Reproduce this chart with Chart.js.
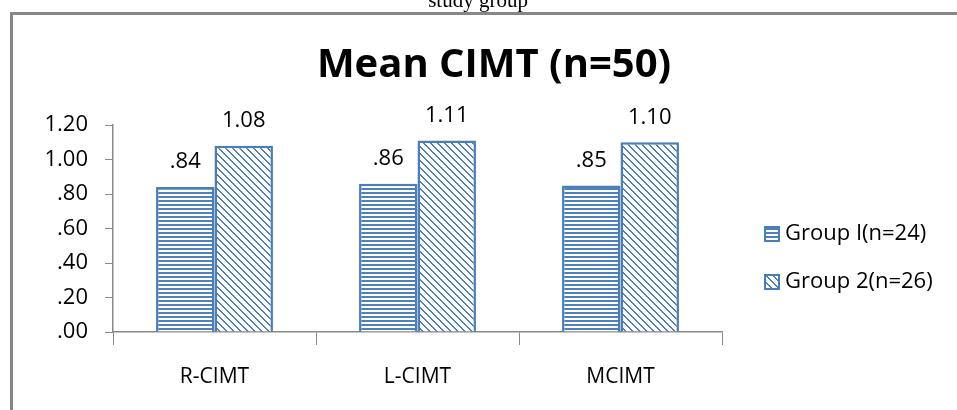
<!DOCTYPE html>
<html>
<head>
<meta charset="utf-8">
<script src="https://cdn.jsdelivr.net/npm/chart.js@4/dist/chart.umd.min.js"></script>
<style>
  html, body { margin: 0; padding: 0; background: #fff; overflow: hidden; }
  #wrap { position: relative; width: 957px; height: 410px; }
</style>
</head>
<body>
<div id="wrap"><canvas id="c" width="957" height="410"></canvas></div>
<script>
// ---- data ----
const categories = ['R-CIMT', 'L-CIMT', 'MCIMT'];
const groupOne = [0.84, 0.86, 0.85];
const groupTwo = [1.08, 1.11, 1.10];
const seriesNames = ['Group I(n=24)', 'Group 2(n=26)'];
const chartTitle = 'Mean CIMT (n=50)';
const captionText = 'study group';
const yMin = 0, yMax = 1.2, yStep = 0.2;

// ---- styling ----
const FONT = '"Open Sans", Lato, sans-serif';
const BLUE = '#4F81BD';
const EDGE = '#4A7EBB';
const AXIS = '#898989';

// number format like ".84" / "1.08"
const fmt = v => v.toFixed(2).replace(/^0(?=\.)/, '');

// fill patterns: horizontal stripes and downward diagonal
function makePattern(kind) {
  const size = kind === 'h' ? 4 : 7;
  const t = document.createElement('canvas');
  t.width = size; t.height = size;
  const g = t.getContext('2d');
  g.fillStyle = '#fff';
  g.fillRect(0, 0, size, size);
  g.fillStyle = BLUE;
  if (kind === 'h') {
    g.fillRect(0, 0, size, 2);
  } else {
    for (let y = 0; y < size; y++) {
      for (let x = 0; x < size; x++) {
        const d = ((x - y) % size + size) % size;
        if (d < 2) g.fillRect(x, y, 1, 1);
      }
    }
  }
  return document.getElementById('c').getContext('2d').createPattern(t, 'repeat');
}
const patterns = [makePattern('h'), makePattern('d')];

// frame, caption, title, value labels and legend
const decorations = {
  id: 'decorations',
  beforeDraw(chart) {
    const ctx = chart.ctx;
    ctx.save();
    ctx.fillStyle = '#fff';
    ctx.fillRect(0, 0, chart.width, chart.height);
    ctx.strokeStyle = '#878787';
    ctx.lineWidth = 3;
    ctx.strokeRect(11.5, 13.5, chart.width + 20, chart.height + 20);
    ctx.fillStyle = '#000';
    ctx.font = '21px "Liberation Serif", "Times New Roman", serif';
    ctx.textAlign = 'center';
    ctx.textBaseline = 'alphabetic';
    ctx.fillText(captionText, 478, 7);
    ctx.restore();
  },
  afterDatasetsDraw(chart) {
    const ctx = chart.ctx;
    ctx.save();
    ctx.fillStyle = '#000';
    ctx.textAlign = 'center';
    ctx.textBaseline = 'middle';
    ctx.font = '22px ' + FONT;
    chart.data.datasets.forEach((ds, i) => {
      chart.getDatasetMeta(i).data.forEach((bar, j) => {
        ctx.fillText(fmt(ds.data[j]), bar.x, bar.y - 25);
      });
    });

    // title
    ctx.font = 'bold 40px ' + FONT;
    ctx.fillText(chartTitle, 494, 66);

    // legend
    ctx.textAlign = 'left';
    ctx.font = '22px ' + FONT;
    const rows = [234, 282];
    chart.data.datasets.forEach((ds, i) => {
      const y = rows[i];
      ctx.fillStyle = patterns[i];
      ctx.fillRect(764, y - 8, 16, 16);
      ctx.strokeStyle = EDGE;
      ctx.lineWidth = 2;
      ctx.strokeRect(765, y - 7, 14, 14);
      ctx.fillStyle = '#000';
      ctx.fillText(ds.label, 785, y);
    });
    ctx.restore();
  }
};

new Chart(document.getElementById('c'), {
  type: 'bar',
  data: {
    labels: categories,
    datasets: [
      { label: seriesNames[0], data: groupOne, backgroundColor: patterns[0], borderColor: EDGE, borderWidth: 2.5 },
      { label: seriesNames[1], data: groupTwo, backgroundColor: patterns[1], borderColor: EDGE, borderWidth: 2.5 }
    ]
  },
  options: {
    responsive: false,
    animation: false,
    events: [],
    layout: { padding: { left: 20, top: 125, right: 235, bottom: 18 } },
    datasets: { bar: { categoryPercentage: 0.576, barPercentage: 1.0 } },
    plugins: { legend: { display: false }, title: { display: false }, tooltip: { enabled: false } },
    scales: {
      x: {
        afterFit: s => { s.height = 60; },
        grid: { offset: true, drawOnChartArea: false, drawTicks: true, tickLength: 13, color: AXIS, lineWidth: 1 },
        border: { color: AXIS, width: 1.5 },
        ticks: { color: '#000', font: { family: FONT, size: 21 }, padding: 19 }
      },
      y: {
        min: yMin, max: yMax,
        afterFit: s => { s.width = 93; },
        grid: { drawOnChartArea: false, drawTicks: true, tickLength: 8, color: AXIS, lineWidth: 1 },
        border: { color: AXIS, width: 1.5 },
        ticks: { stepSize: yStep, color: '#000', font: { family: FONT, size: 22 }, padding: 17, callback: v => fmt(v) }
      }
    }
  },
  plugins: [decorations]
});
</script>
</body>
</html>
